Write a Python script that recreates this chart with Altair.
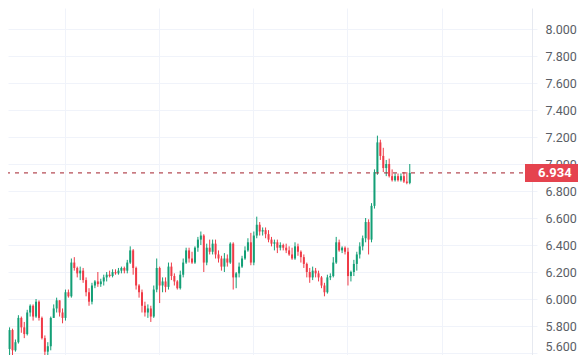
import altair as alt
import pandas as pd

first_open = 5.69
close = [
    5.63, 5.77, 5.62, 5.68, 5.86, 5.79, 5.74, 5.90, 5.95, 5.87,
    5.98, 5.86, 5.71, 5.61, 5.65, 5.86, 5.93, 5.99, 5.90, 5.86,
    6.05, 6.02, 6.27, 6.23, 6.19, 6.21, 6.14, 6.05, 5.98, 6.10,
    6.13, 6.11, 6.13, 6.16, 6.18, 6.17, 6.20, 6.19, 6.21, 6.23,
    6.21, 6.27, 6.36, 6.23, 6.10, 6.05, 5.95, 5.90, 5.93, 5.87,
    6.07, 6.23, 6.10, 6.13, 6.09, 6.24, 6.17, 6.13, 6.08, 6.18,
    6.27, 6.36, 6.30, 6.27, 6.38, 6.44, 6.47, 6.27, 6.38, 6.35,
    6.41, 6.33, 6.30, 6.24, 6.30, 6.27, 6.41, 6.16, 6.19, 6.24,
    6.30, 6.36, 6.42, 6.27, 6.47, 6.55, 6.50, 6.51, 6.48, 6.44,
    6.41, 6.42, 6.38, 6.40, 6.38, 6.36, 6.33, 6.30, 6.39, 6.35,
    6.31, 6.26, 6.20, 6.16, 6.21, 6.19, 6.16, 6.10, 6.05, 6.16,
    6.17, 6.27, 6.42, 6.36, 6.38, 6.35, 6.17, 6.20, 6.26, 6.33,
    6.39, 6.45, 6.57, 6.44, 6.69, 6.94, 7.16, 7.06, 6.97, 7.00,
    6.91, 6.88, 6.91, 6.88, 6.91, 6.87, 6.86, 6.934,
]
high = [
    5.70, 5.79, 5.78, 5.70, 5.88, 5.87, 5.83, 5.92, 5.96, 5.96,
    6.00, 5.99, 5.87, 5.73, 5.68, 5.87, 5.96, 6.01, 5.99, 5.93,
    6.07, 6.07, 6.30, 6.31, 6.24, 6.24, 6.23, 6.16, 6.08, 6.12,
    6.14, 6.20, 6.15, 6.18, 6.20, 6.21, 6.22, 6.22, 6.23, 6.24,
    6.24, 6.29, 6.39, 6.37, 6.24, 6.11, 6.07, 5.98, 5.96, 5.95,
    6.10, 6.30, 6.24, 6.16, 6.16, 6.27, 6.27, 6.19, 6.14, 6.21,
    6.30, 6.38, 6.38, 6.35, 6.39, 6.46, 6.50, 6.48, 6.41, 6.44,
    6.44, 6.44, 6.36, 6.32, 6.34, 6.33, 6.42, 6.42, 6.20, 6.27,
    6.32, 6.39, 6.45, 6.49, 6.50, 6.61, 6.57, 6.53, 6.53, 6.51,
    6.46, 6.44, 6.44, 6.42, 6.41, 6.41, 6.39, 6.38, 6.42, 6.41,
    6.36, 6.33, 6.27, 6.23, 6.24, 6.23, 6.21, 6.17, 6.12, 6.18,
    6.19, 6.31, 6.46, 6.44, 6.39, 6.39, 6.38, 6.21, 6.29, 6.35,
    6.42, 6.47, 6.60, 6.59, 6.71, 6.96, 7.21, 7.18, 7.12, 7.03,
    7.04, 6.96, 6.93, 6.93, 6.93, 6.94, 6.94, 7.00,
]
low = [
    5.61, 5.57, 5.56, 5.61, 5.67, 5.75, 5.71, 5.73, 5.87, 5.84,
    5.86, 5.84, 5.70, 5.53, 5.56, 5.62, 5.86, 5.90, 5.87, 5.82,
    5.84, 6.01, 6.01, 6.21, 6.16, 6.14, 6.12, 6.02, 5.95, 5.96,
    6.08, 6.09, 6.09, 6.10, 6.13, 6.16, 6.16, 6.18, 6.18, 6.19,
    6.19, 6.19, 6.26, 6.18, 6.07, 6.01, 5.90, 5.87, 5.86, 5.83,
    5.86, 6.05, 5.97, 6.05, 6.05, 6.07, 6.14, 6.10, 6.07, 6.07,
    6.16, 6.26, 6.27, 6.26, 6.26, 6.35, 6.40, 6.20, 6.25, 6.33,
    6.33, 6.30, 6.27, 6.21, 6.20, 6.24, 6.26, 6.07, 6.08, 6.16,
    6.23, 6.29, 6.35, 6.25, 6.25, 6.45, 6.47, 6.47, 6.45, 6.42,
    6.39, 6.36, 6.34, 6.36, 6.36, 6.34, 6.32, 6.29, 6.29, 6.32,
    6.27, 6.23, 6.16, 6.12, 6.14, 6.16, 6.13, 6.08, 6.02, 6.04,
    6.14, 6.16, 6.26, 6.35, 6.34, 6.33, 6.10, 6.13, 6.17, 6.21,
    6.30, 6.36, 6.42, 6.33, 6.42, 6.67, 6.92, 7.03, 6.94, 6.91,
    6.90, 6.87, 6.87, 6.87, 6.87, 6.86, 6.85, 6.85,
]
y_ticks = [5.6, 5.8, 6.0, 6.2, 6.4, 6.6, 6.8, 7.0, 7.2, 7.4, 7.6, 7.8, 8.0]
last_price = close[-1]
last_label = "6.934"

UP = "#139f76"
DOWN = "#ef3b47"
GRID = "#f0f3fa"

opens = [first_open] + close[:-1]
df = pd.DataFrame({
    "i": list(range(len(close))),
    "open": opens, "high": high, "low": low, "close": close,
})

X_MIN, X_MAX = 2.1667, 176.8333
Y_MIN, Y_MAX = 5.5852, 8.1556

xs = alt.Scale(domain=[X_MIN, X_MAX], nice=False, zero=False)
ys = alt.Scale(domain=[Y_MIN, Y_MAX], nice=False, zero=False)

x_grid = [19.83 + 32 * k for k in range(5)]

x_axis = alt.Axis(values=x_grid, grid=True, gridColor=GRID,
                  labels=False, ticks=False, domain=False, title=None)
y_axis = alt.Axis(
    orient="right", values=y_ticks, format=".3f", grid=True, gridColor=GRID,
    tickColor=GRID, tickSize=5, domain=True, domainColor="#e6e9f0",
    labelColor="#5a5e66", labelFont="Roboto", labelFontSize=12.5,
    labelPadding=8, labelAlign="left", labelFlush=False, labelBound=False,
    labelOverlap=False, title=None,
    labelBaseline=alt.condition("datum.value < 5.65", alt.value("bottom"), alt.value("middle")),
)

color = alt.condition("datum.open <= datum.close", alt.value(UP), alt.value(DOWN))

base = alt.Chart(df)

wick = base.mark_rule(strokeWidth=1, clip=True).encode(
    x=alt.X("i:Q", scale=xs, axis=x_axis),
    y=alt.Y("low:Q", scale=ys, axis=y_axis),
    y2="high:Q",
    color=color,
)

body = base.mark_bar(size=2, clip=True).encode(
    x=alt.X("i:Q", scale=xs, axis=x_axis),
    y=alt.Y("open:Q", scale=ys, axis=y_axis),
    y2="close:Q",
    color=color,
)

dash = alt.Chart(pd.DataFrame({"p": [last_price]})).mark_rule(
    color="#a31f2b", strokeDash=[4, 5], strokeWidth=1
).encode(y=alt.Y("p:Q", scale=ys, axis=y_axis))

box = alt.Chart(pd.DataFrame({"p": [last_price], "x0": [X_MAX]})).mark_rect(
    color="#E5434E", yOffset=-9, y2Offset=9, xOffset=-2, x2Offset=70
).encode(
    x=alt.X("x0:Q", scale=xs, axis=x_axis), x2="x0:Q",
    y=alt.Y("p:Q", scale=ys, axis=y_axis), y2="p:Q",
)

label = alt.Chart(pd.DataFrame({"p": [last_price], "x0": [X_MAX], "t": [last_label]})).mark_text(
    color="white", font="Roboto", fontSize=13, fontWeight="bold", align="left", dx=11, dy=0.5,
    baseline="middle"
).encode(
    x=alt.X("x0:Q", scale=xs, axis=x_axis),
    y=alt.Y("p:Q", scale=ys, axis=y_axis),
    text="t:N",
)

chart = alt.layer(wick, dash, body, box, label).properties(
    width=524, height=347,
    autosize=alt.AutoSizeParams(type="none"),
    padding={"left": 0, "top": 0, "right": 46, "bottom": 0},
    background="white",
).configure_view(strokeWidth=0)

chart.save("out.html", embed_options={"renderer": "svg", "actions": False})
